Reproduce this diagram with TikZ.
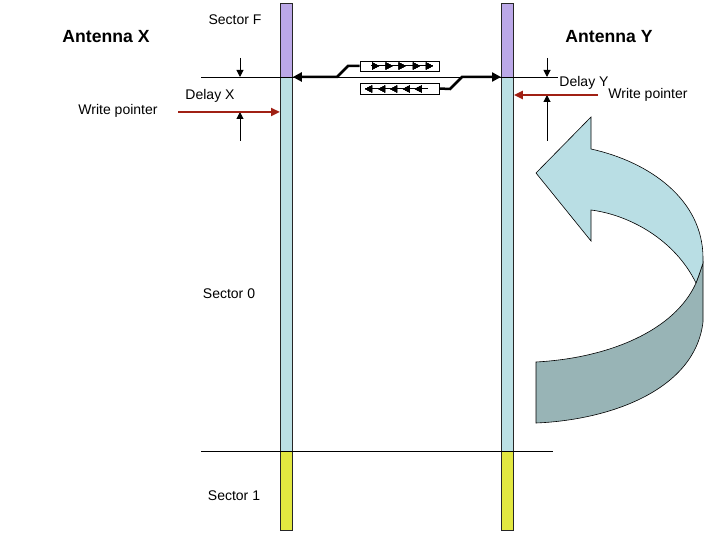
\documentclass[tikz,border=0pt]{standalone}
\usepackage{fontspec}
\setmainfont{Liberation Sans}
\usetikzlibrary{arrows.meta,decorations.markings}
\definecolor{barpurple}{RGB}{187,168,232}
\definecolor{barcyan}{RGB}{187,224,228}
\definecolor{baryellow}{RGB}{226,232,64}
\definecolor{ptrred}{RGB}{160,32,20}
\definecolor{ribbonlight}{RGB}{185,222,228}
\definecolor{ribbondark}{RGB}{152,180,182}
\begin{document}
\begin{tikzpicture}[x=1pt,y=-1pt,
  bar/.style={draw=black!85, line width=0.8pt, inner sep=0, minimum width=12pt, anchor=north west},
  lbl/.style={font=\fontsize{14}{16}\selectfont, inner sep=0},
  ttl/.style={font=\fontsize{17.6}{20}\selectfont\bfseries, inner sep=0},
  thinline/.style={line width=0.8pt},
  bus/.style={line width=2.5pt, line join=miter},
  bustip/.style={-{Triangle[length=9pt,width=9pt]}},
  ptr/.style={draw=ptrred, line width=2.5pt, -{Triangle[length=9pt,width=8pt]}},
  dly/.style={line width=1pt, -{Triangle[length=7pt,width=7pt]}},
  pktbox/.style={draw, line width=0.8pt, minimum width=79pt, inner sep=0},
  ribbon/.style={draw=black, line width=0.6pt},
  smalltip/.style={decoration={markings,
      mark=at position #1 with {\arrow{Triangle[length=7pt,width=7pt]}}}, postaction={decorate}}
]
\useasboundingbox (0,0) rectangle (720,540);

% bars
\node[bar, fill=barpurple, minimum height=74pt] (fL) at (280,3) {};
\node[bar, fill=barcyan, minimum height=374pt] (cL) at (280,77) {};
\node[bar, fill=baryellow, minimum height=79pt] (yL) at (280,451) {};
\node[bar, fill=barpurple, minimum height=74pt] (fR) at (501,3) {};
\node[bar, fill=barcyan, minimum height=374pt] (cR) at (501,77) {};
\node[bar, fill=baryellow, minimum height=79pt] (yR) at (501,451) {};

% sector boundary lines
\coordinate (topA) at (201,77);
\coordinate (topB) at (558,77);
\coordinate (botA) at (201,451);
\coordinate (botB) at (553,451);
\draw[thinline] (topA) -- (topB);
\draw[thinline] (botA) -- (botB);

% labels
\node[ttl] (antX) at (106,37) {Antenna X};
\node[ttl] (antY) at (609,37) {Antenna Y};
\node[lbl] (secF) at (235,20) {Sector F};
\node[lbl] (sec0) at (229,294) {Sector 0};
\node[lbl] (sec1) at (234,496) {Sector 1};
\node[lbl] (dX) at (210,96) {Delay X};
\node[lbl] (wpX) at (118,111) {Write pointer};
\node[lbl] (dY) at (584,83) {Delay Y};
\node[lbl] (wpY) at (648,95) {Write pointer};

% packet boxes
\node[pktbox, minimum height=10pt] (boxT) at (399.5,66) {};
\node[pktbox, minimum height=11pt] (boxB) at (399.5,88.5) {};
\coordinate (tA) at (371,66);
\coordinate (tB) at (433,66);
\coordinate (bA) at (428,89);
\coordinate (bB) at (365,89);
\draw[line width=1pt, smalltip=0.13, smalltip=0.35, smalltip=0.56, smalltip=0.79, smalltip=0.999] (tA) -- (tB);
\draw[line width=1pt, smalltip=0.21, smalltip=0.40, smalltip=0.60, smalltip=0.79, smalltip=0.999] (bA) -- (bB);

% buses
\draw[bus, bustip] (boxT.west) -- (348,66) -- (337,77) -- (cL.north east);
\draw[bus, bustip] (boxB.east) -- (450,89) -- (462,77) -- (cR.north west);

% delay markers
\coordinate (dxTop) at (240,58);
\coordinate (dxLine) at (240,77);
\coordinate (dxBot) at (240,141);
\coordinate (dxPtr) at (240,112);
\draw[dly] (dxTop) -- (dxLine);
\draw[dly] (dxBot) -- (dxPtr);
\coordinate (dyTop) at (547,58);
\coordinate (dyLine) at (547,77);
\coordinate (dyBot) at (547,141);
\coordinate (dyPtr) at (547,95);
\draw[dly] (dyTop) -- (dyLine);
\draw[dly] (dyBot) -- (dyPtr);

% write pointers
\coordinate (wpXs) at (178,112);
\coordinate (wpYs) at (598,95);
\draw[ptr] (wpXs) -- (cL.west |- wpXs);
\draw[ptr] (wpYs) -- (cR.east |- wpYs);

% curved ribbon arrow
\fill[ribbondark, draw=black, line width=0.6pt]
  (703,263) -- (703,322) .. controls (695,390) and (610,420) .. (536,423)
  -- (536,362) .. controls (610,358) and (675,330) .. (696,283)
  .. controls (699,275) .. (703,263) -- cycle;
\fill[ribbonlight, draw=black, line width=0.6pt]
  (536,173) -- (591,117) -- (591,149)
  .. controls (650,162) and (703,200) .. (703,258)
  -- (703,263) .. controls (699,275) .. (696,283)
  .. controls (675,240) and (630,215) .. (591,210)
  -- (591,241) -- cycle;
\end{tikzpicture}
\end{document}
